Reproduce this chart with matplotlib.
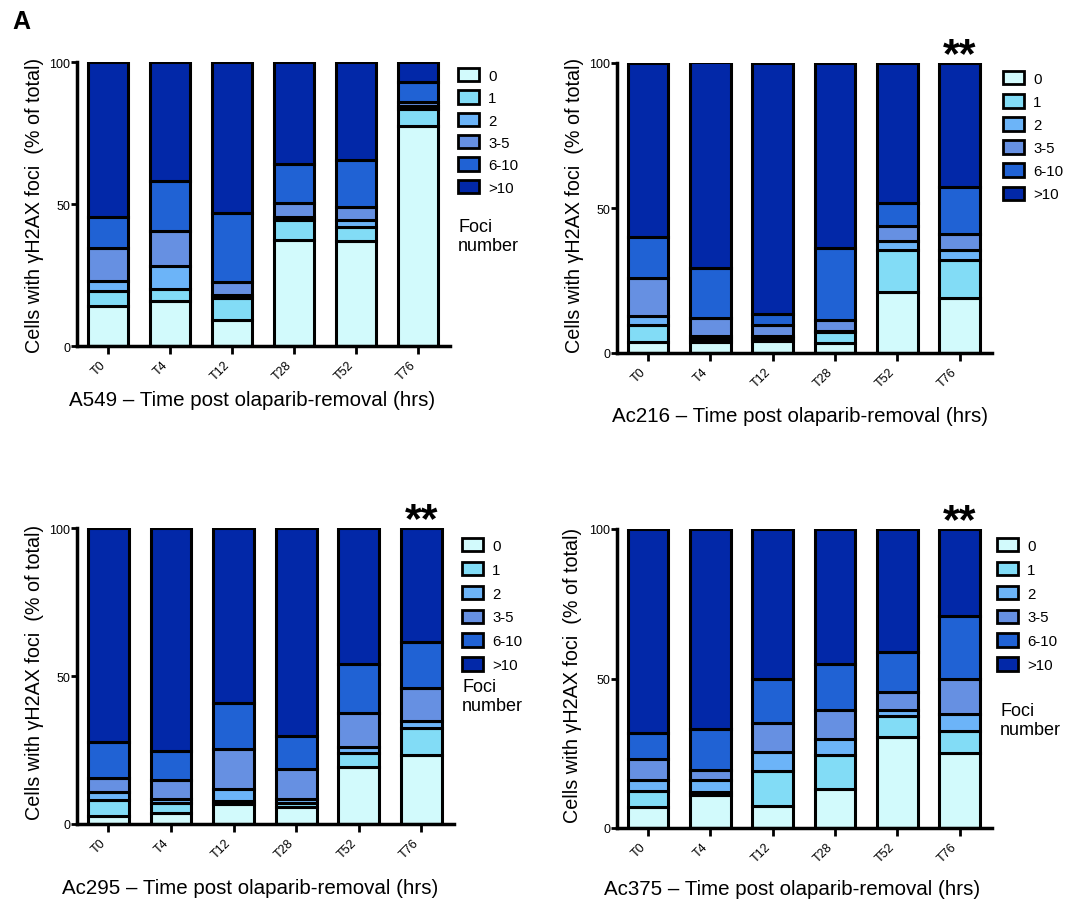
import matplotlib
matplotlib.use("Agg")
import matplotlib.pyplot as plt
from matplotlib.patches import Patch
import numpy as np

plt.rcParams['font.family'] = ['Liberation Sans', 'DejaVu Sans']

timepoints = ["T0", "T4", "T12", "T28", "T52", "T76"]
foci_categories = ["0", "1", "2", "3-5", "6-10", ">10"]
colors = ["#D2FAFC", "#82DCF6", "#6CB4F8", "#6690E2", "#2062D4", "#0228A8"]

# per-category percentages (bottom to top), one list per category, per cell line
a549 = {
    "0":    [14.0, 16.0, 9.0, 37.5, 37.0, 77.5],
    "1":    [5.5, 4.0, 8.0, 7.0, 5.0, 6.0],
    "2":    [3.5, 8.0, 1.0, 1.0, 2.5, 1.0],
    "3-5":  [11.5, 12.5, 4.5, 5.0, 4.5, 1.5],
    "6-10": [11.0, 17.5, 24.5, 13.5, 16.5, 7.0],
    ">10":  [54.5, 42.0, 53.0, 36.0, 34.5, 7.0],
}
ac216 = {
    "0":    [3.7, 3.7, 4.3, 3.3, 21.0, 19.0],
    "1":    [6.0, 1.1, 1.0, 4.1, 14.5, 13.0],
    "2":    [3.0, 1.2, 0.7, 0.3, 3.0, 3.5],
    "3-5":  [13.3, 6.2, 3.8, 3.8, 5.2, 5.5],
    "6-10": [14.0, 17.2, 3.6, 24.8, 8.0, 16.4],
    ">10":  [60.0, 70.8, 86.6, 63.7, 48.3, 42.6],
}
ac295 = {
    "0":    [2.6, 3.6, 6.8, 5.9, 19.4, 23.4],
    "1":    [5.6, 3.4, 1.1, 1.1, 4.5, 9.1],
    "2":    [2.5, 1.5, 3.9, 1.5, 2.0, 2.4],
    "3-5":  [4.7, 6.5, 13.6, 10.1, 11.5, 11.0],
    "6-10": [12.2, 9.8, 15.5, 11.1, 16.5, 15.5],
    ">10":  [72.4, 75.2, 59.1, 70.3, 46.1, 38.6],
}
ac375 = {
    "0":    [7.0, 10.9, 7.2, 13.1, 30.6, 25.1],
    "1":    [5.5, 1.1, 11.8, 11.2, 6.8, 7.5],
    "2":    [3.4, 3.9, 6.4, 5.3, 1.9, 5.6],
    "3-5":  [7.3, 3.4, 9.7, 9.7, 6.1, 11.5],
    "6-10": [8.6, 13.7, 14.6, 15.6, 13.4, 21.1],
    ">10":  [68.2, 67.0, 50.3, 45.1, 41.2, 29.2],
}

W, H = 1068, 904

def fx(px):
    return px / W

def fy(py):
    return 1 - py / H

# layout in figure pixels: axes (left, top, right, bottom), legend top-left,
# legend label spacing, "Foci number" centre (or None), x-label centre, y-label centre
panels = [
    dict(data=a549, name="A549", stars=False, box=(77, 63, 450, 347),
         leg=(458, 69), lsp=0.5, foci=(458, 237), xl=(252, 401), yl=(35, 205)),
    dict(data=ac216, name="Ac216", stars=True, box=(617, 64, 992, 354),
         leg=(1003, 72), lsp=0.55, foci=None, xl=(800, 416), yl=(575, 205)),
    dict(data=ac295, name="Ac295", stars=True, box=(77, 529, 454, 825),
         leg=(462, 539), lsp=0.6, foci=(462, 697), xl=(250, 889), yl=(35, 672)),
    dict(data=ac375, name="Ac375", stars=True, box=(617, 530, 992, 829),
         leg=(997, 539), lsp=0.6, foci=(1000, 721), xl=(792, 890), yl=(572, 675)),
]

fig = plt.figure(figsize=(W / 100, H / 100), dpi=100)

for p in panels:
    l, t, r, b = p["box"]
    ax = fig.add_axes([fx(l), fy(b), fx(r) - fx(l), fy(t) - fy(b)])
    data = p["data"]
    x = np.arange(len(timepoints))
    bottom = np.zeros(len(timepoints))
    for cat, col in zip(foci_categories, colors):
        vals = np.array(data[cat])
        ax.bar(x, vals, bottom=bottom, width=0.65, color=col,
               edgecolor="black", linewidth=2.2)
        bottom += vals
    ax.set_xlim(-0.5, 5.52)
    ax.set_ylim(0, 100)
    ax.set_yticks([0, 50, 100])
    ax.set_xticks(x)
    ax.set_xticklabels(timepoints, rotation=45, fontsize=9, ha="right")
    ax.tick_params(axis='y', labelsize=9, width=2, length=4, pad=1)
    ax.tick_params(axis='x', width=2, length=6, pad=3)
    for s in ["top", "right"]:
        ax.spines[s].set_visible(False)
    for s in ["left", "bottom"]:
        ax.spines[s].set_linewidth(2.5)
    if p["stars"]:
        ax.text(5, 99.0, "**", ha="center", va="baseline", fontsize=31,
                fontweight="bold", clip_on=False)
    fig.text(fx(p["xl"][0]), fy(p["xl"][1]),
             p["name"] + " \u2013 Time post olaparib-removal (hrs)",
             fontsize=14.8, ha="center", va="center")
    fig.text(fx(p["yl"][0]), fy(p["yl"][1]),
             "Cells with \u03b3H2AX foci  (% of total)",
             fontsize=14.2, ha="center", va="center", rotation=90)
    handles = [Patch(facecolor=c, edgecolor="black", linewidth=2) for c in colors]
    fig.legend(handles, foci_categories, loc="upper left",
               bbox_to_anchor=(fx(p["leg"][0]), fy(p["leg"][1])),
               bbox_transform=fig.transFigure, frameon=False, fontsize=10.8,
               handlelength=1.4, handleheight=1.0, labelspacing=p["lsp"],
               handletextpad=0.6, borderaxespad=0.0, borderpad=0.0)
    if p["foci"] is not None:
        fig.text(fx(p["foci"][0]), fy(p["foci"][1]), "Foci\nnumber",
                 fontsize=13, va="center", ha="left", linespacing=1.2)

fig.text(fx(12), fy(22), "A", fontsize=18, fontweight="bold", ha="left", va="center")

fig.savefig("out.png", dpi=100)
